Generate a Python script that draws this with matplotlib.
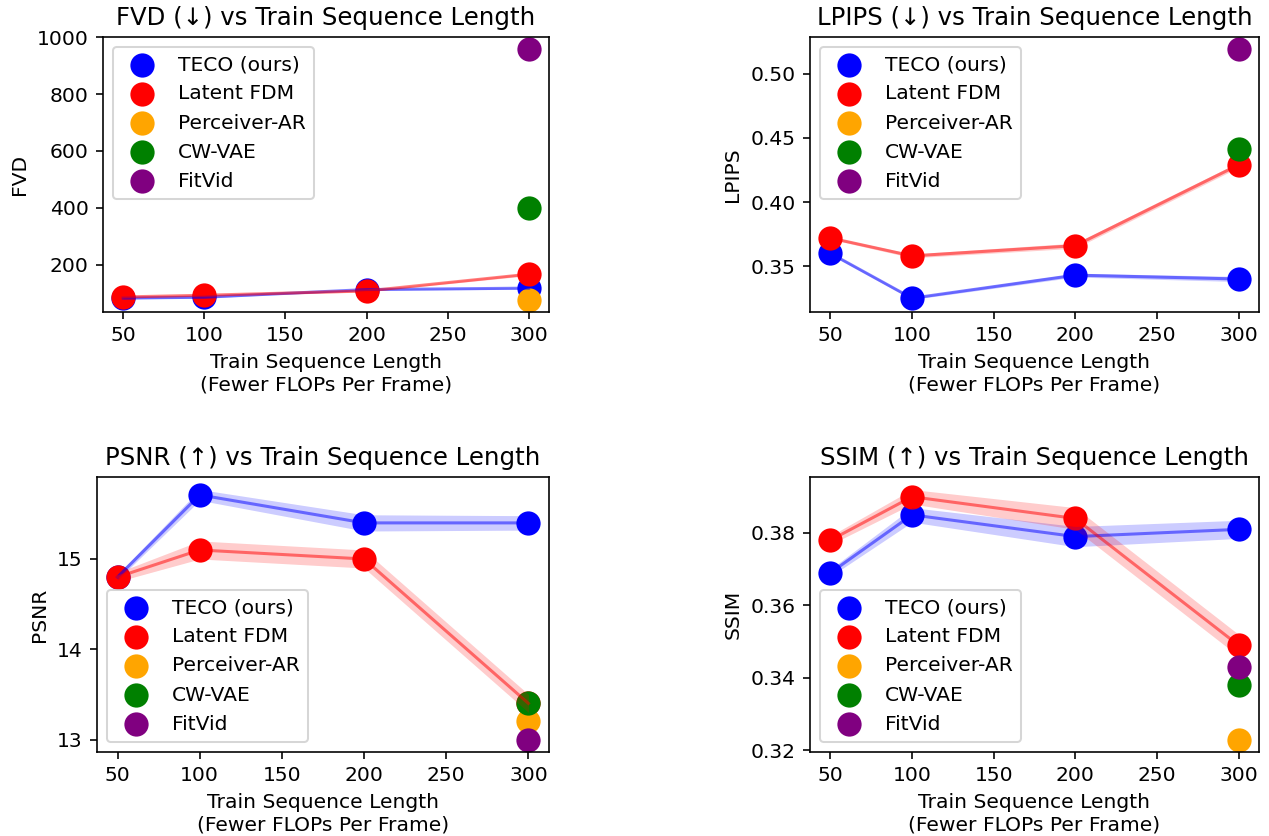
import numpy as np
import matplotlib
matplotlib.use("Agg")
import matplotlib.pyplot as plt

# train sequence lengths
seq_len = [50, 100, 200, 300]

# FVD
fvd_teco = [82, 85, 112, 117]
fvd_teco_std = [3, 3, 3, 4]
fvd_fdm = [86, 92, 107, 166]
fvd_fdm_std = [3, 3, 3, 5]
fvd_perc = 77
fvd_cwvae = 398
fvd_fitvid = 957

# LPIPS
lpips_teco = [0.360, 0.325, 0.343, 0.340]
lpips_teco_std = [0.001, 0.001, 0.0015, 0.002]
lpips_fdm = [0.372, 0.358, 0.366, 0.429]
lpips_fdm_std = [0.001, 0.0015, 0.002, 0.002]
lpips_perc = np.nan
lpips_cwvae = 0.441
lpips_fitvid = 0.519

# PSNR
psnr_teco = [14.80, 15.71, 15.40, 15.40]
psnr_teco_std = [0.03, 0.06, 0.09, 0.08]
psnr_fdm = [14.80, 15.10, 15.00, 13.40]
psnr_fdm_std = [0.05, 0.10, 0.10, 0.10]
psnr_perc = 13.2
psnr_cwvae = 13.4
psnr_fitvid = 13.0

# SSIM
ssim_teco = [0.369, 0.385, 0.379, 0.381]
ssim_teco_std = [0.001, 0.002, 0.0028, 0.0025]
ssim_fdm = [0.378, 0.390, 0.384, 0.349]
ssim_fdm_std = [0.0012, 0.002, 0.003, 0.003]
ssim_perc = 0.323
ssim_cwvae = 0.338
ssim_fitvid = 0.343

DPI = 146


def draw_panel(ax, name, arrow, teco, teco_std, fdm, fdm_std, perc, cwvae, fitvid, legend_loc):
    x = np.array(seq_len)
    teco = np.array(teco)
    fdm = np.array(fdm)
    teco_std = np.array(teco_std)
    fdm_std = np.array(fdm_std)
    ax.scatter(x, teco, s=120, color='blue', label='TECO (ours)')
    ax.scatter(x, fdm, s=120, color='red', label='Latent FDM')
    ax.scatter([300], [perc], s=120, color='orange', label='Perceiver-AR')
    ax.scatter([300], [cwvae], s=120, color='green', label='CW-VAE')
    ax.scatter([300], [fitvid], s=120, color='purple', label='FitVid')
    ax.plot(x, teco, color='blue', alpha=0.5, linewidth=1.5)
    ax.fill_between(x, teco - teco_std, teco + teco_std, color='blue', alpha=0.2, linewidth=0)
    ax.plot(x, fdm, color='red', alpha=0.5, linewidth=1.5)
    ax.fill_between(x, fdm - fdm_std, fdm + fdm_std, color='red', alpha=0.2, linewidth=0)
    ax.set_title('{} ({}) vs Train Sequence Length'.format(name, arrow), fontsize=12)
    ax.set_xlabel('Train Sequence Length\n(Fewer FLOPs Per Frame)')
    ax.set_ylabel(name)
    ax.set_xticks([50, 100, 150, 200, 250, 300])
    ax.legend(loc=legend_loc)


fig = plt.figure(figsize=(1269 / DPI, 836 / DPI), dpi=DPI)
H = 836.0
W = 1269.0
ax1 = fig.add_axes([103 / W, 1 - 312 / H, 446 / W, 275 / H])
ax2 = fig.add_axes([810 / W, 1 - 312 / H, 449 / W, 275 / H])
ax3 = fig.add_axes([97 / W, 1 - 752 / H, 452 / W, 275 / H])
ax4 = fig.add_axes([810 / W, 1 - 752 / H, 449 / W, 275 / H])

draw_panel(ax1, 'FVD', '\u2193', fvd_teco, fvd_teco_std, fvd_fdm, fvd_fdm_std,
           fvd_perc, fvd_cwvae, fvd_fitvid, 'upper left')
ax1.set_yticks([200, 400, 600, 800, 1000])
draw_panel(ax2, 'LPIPS', '\u2193', lpips_teco, lpips_teco_std, lpips_fdm, lpips_fdm_std,
           lpips_perc, lpips_cwvae, lpips_fitvid, 'upper left')
ax2.set_yticks([0.35, 0.40, 0.45, 0.50])
draw_panel(ax3, 'PSNR', '\u2191', psnr_teco, psnr_teco_std, psnr_fdm, psnr_fdm_std,
           psnr_perc, psnr_cwvae, psnr_fitvid, 'lower left')
ax3.set_yticks([13, 14, 15])
draw_panel(ax4, 'SSIM', '\u2191', ssim_teco, ssim_teco_std, ssim_fdm, ssim_fdm_std,
           ssim_perc, ssim_cwvae, ssim_fitvid, 'lower left')
ax4.set_yticks([0.32, 0.34, 0.36, 0.38])

fig.savefig('out.png', dpi=DPI)
